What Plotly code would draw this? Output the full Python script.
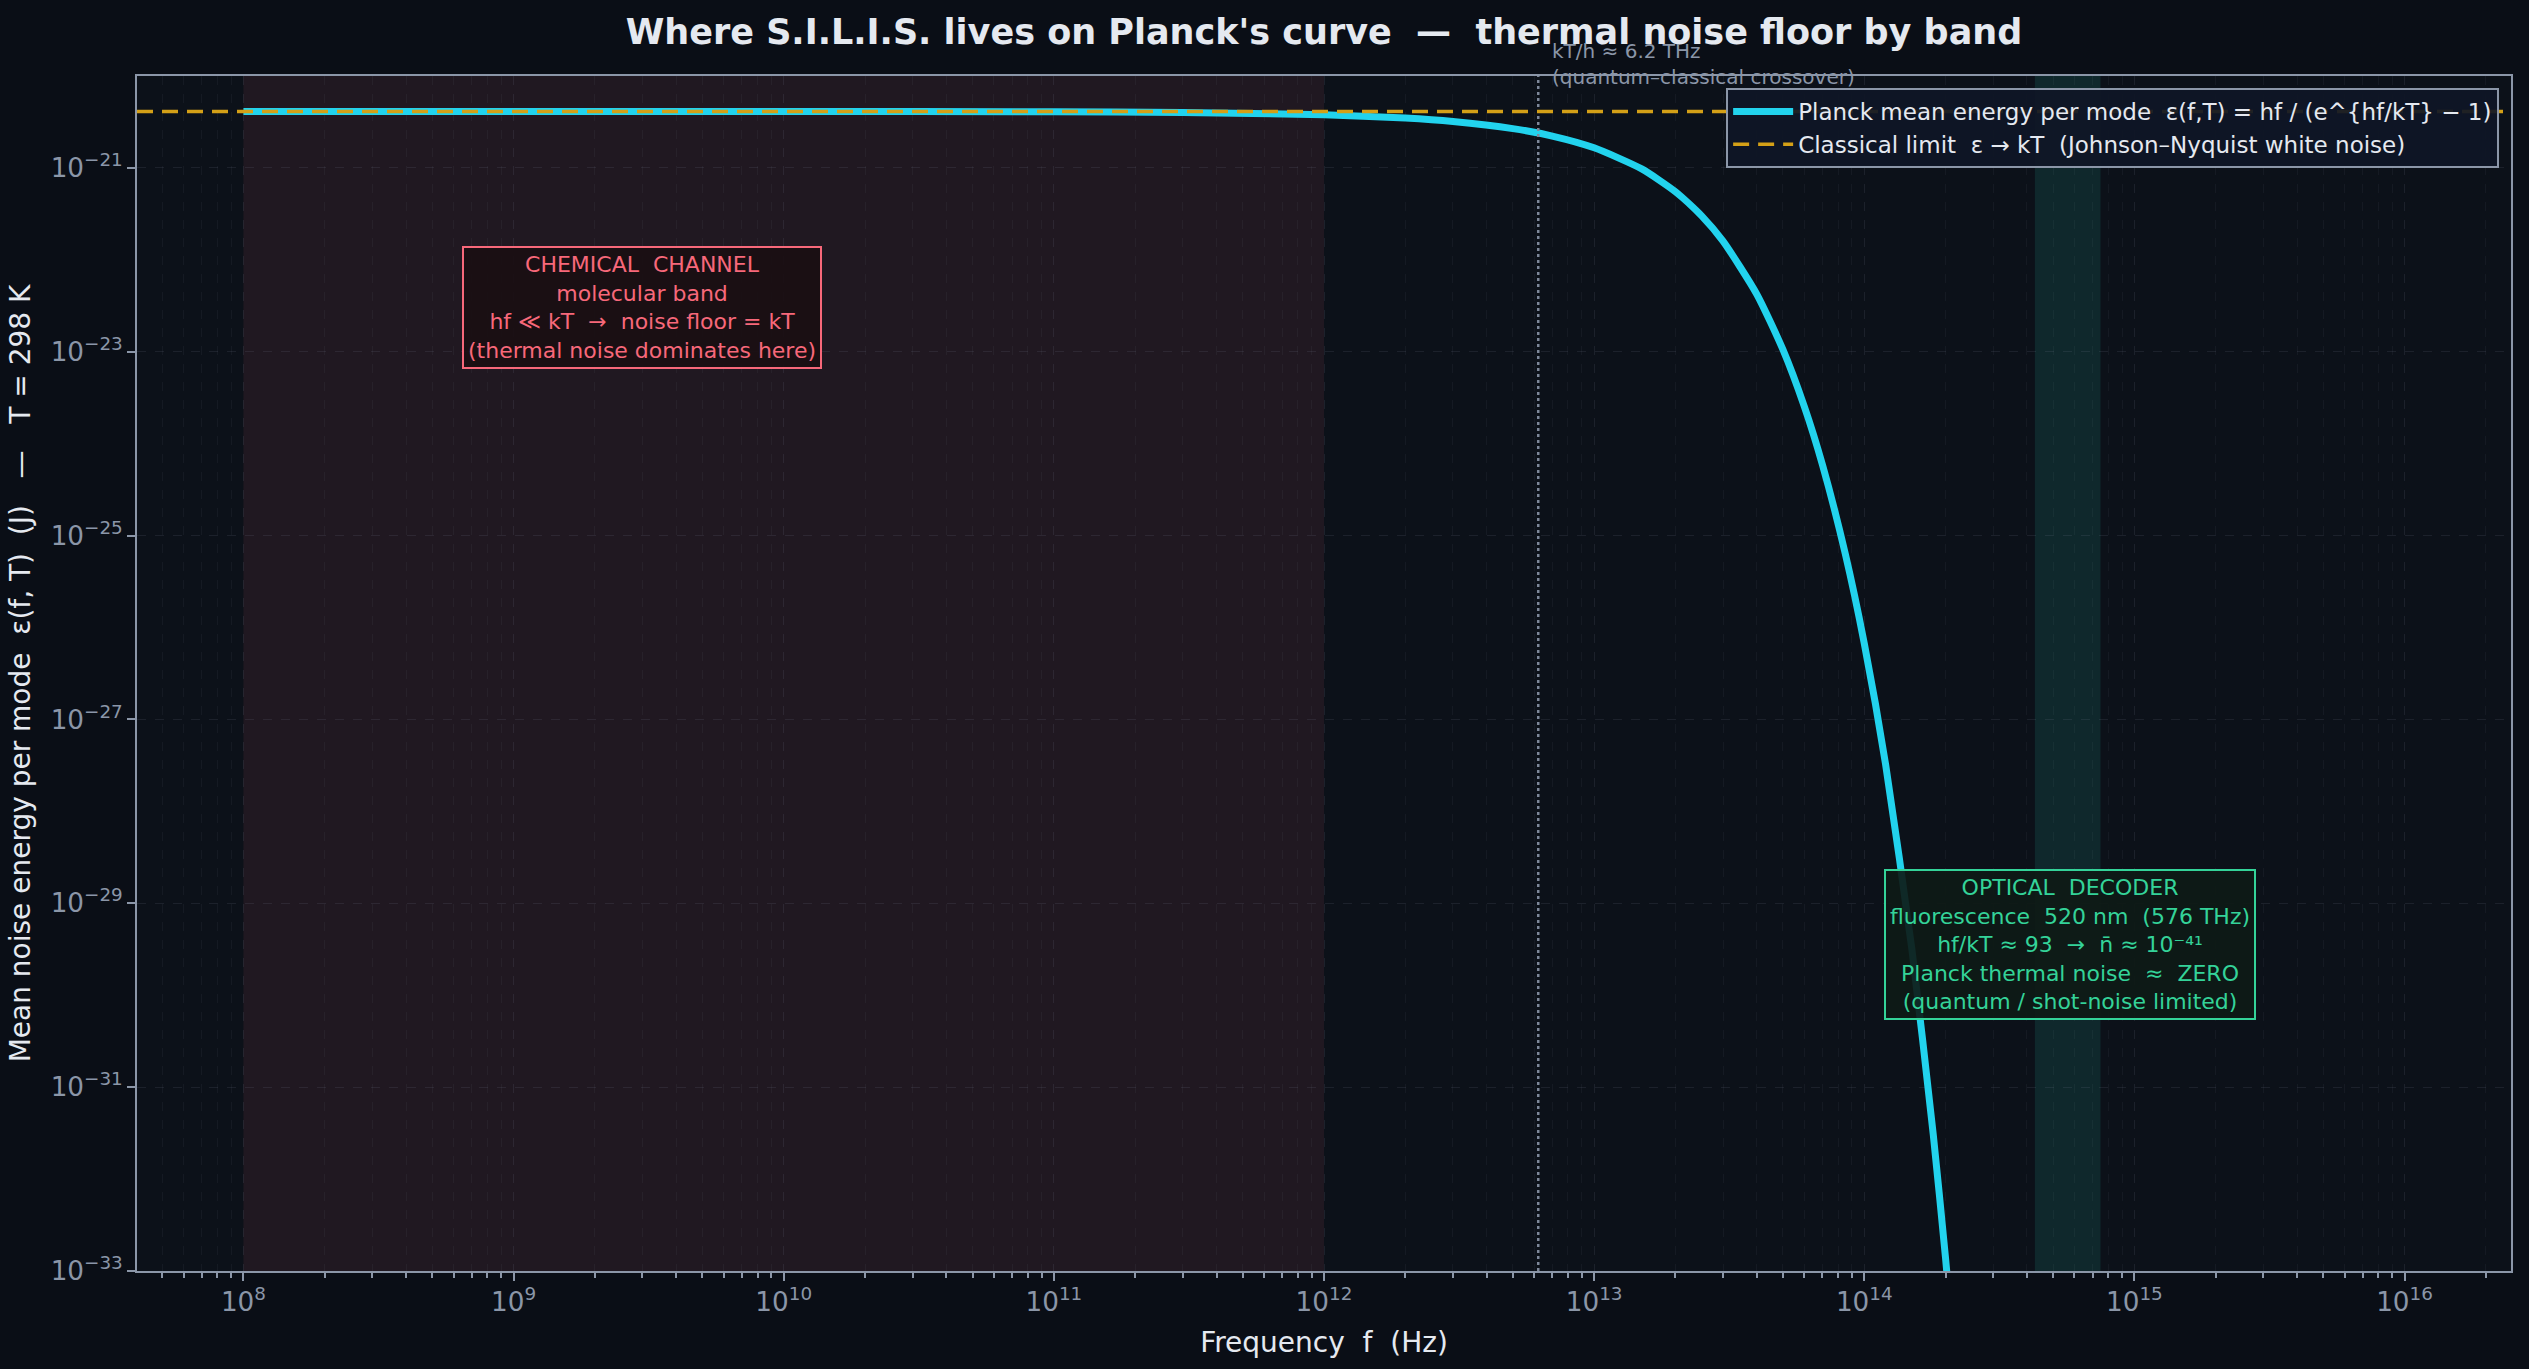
import numpy as np
import plotly.graph_objects as go

# Planck mean energy per mode at T = 298 K
freq_hz = [1e8, 1e9, 1e10, 1e11, 3e11, 1e12, 2e12, 3e12, 5e12, 7e12, 1e13,
           1.5e13, 2e13, 2.5e13, 3e13, 4e13, 5e13, 6e13, 7e13, 8.5e13, 1e14,
           1.2e14, 1.5e14, 1.8e14, 2e14, 2.2e14]
planck_energy = [4.114e-21, 4.114e-21, 4.111e-21, 4.081e-21, 4.016e-21, 3.79e-21,
                 3.487e-21, 3.20e-21, 2.678e-21, 2.222e-21, 1.654e-21, 9.75e-22,
                 5.51e-22, 3.01e-22, 1.598e-22, 4.23e-23, 1.054e-23, 2.53e-24,
                 5.90e-25, 6.38e-26, 6.71e-27, 3.21e-28, 3.19e-30, 3.06e-32,
                 1.36e-33, 5.98e-35]

kT = 4.114e-21            # classical limit (J)
crossover_hz = 6.21e12    # kT/h
chem_band = [1e8, 1e12]
optical_band = [4.28e14, 7.49e14]

BG = "#0a0e16"
PLOT_BG = "#0c1119"
GRID = "rgba(139,150,168,0.13)"
MINOR_GRID = "rgba(139,150,168,0.07)"
TICK = "#8b96a8"
TEXT = "#e5e9f0"
CYAN = "#22d3ee"
GOLD = "#d4a017"
RED = "#f7687a"
GREEN = "#34d399"
FONT = "DejaVu Sans"

fig = go.Figure()

fig.add_trace(go.Scatter(
    x=freq_hz, y=planck_energy, mode="lines",
    line=dict(color=CYAN, width=7, shape="spline", smoothing=0.6),
    name="Planck mean energy per mode  ε(f,T) = hf / (e^{hf/kT} − 1)",
))

# bands
fig.add_vrect(x0=chem_band[0], x1=chem_band[1], fillcolor="rgba(247,104,122,0.09)",
              line_width=0, layer="below")
fig.add_vrect(x0=optical_band[0], x1=optical_band[1], fillcolor="rgba(45,212,191,0.12)",
              line_width=0, layer="below")

# crossover line
fig.add_vline(x=crossover_hz, line=dict(color="#7d8799", width=2.5, dash="dot"))

# classical limit
fig.add_hline(y=kT, line=dict(color=GOLD, width=3.5, dash="16px,9px"),
              showlegend=True,
              name="Classical limit  ε → kT  (Johnson–Nyquist white noise)")

fig.add_annotation(
    x=np.log10(crossover_hz), y=1, xref="x", yref="paper",
    xanchor="left", yanchor="bottom", xshift=12, yshift=-15, align="left",
    text="kT/h ≈ 6.2 THz<br>(quantum–classical crossover)",
    showarrow=False, font=dict(family=FONT, size=20, color="#8b96a8"),
)

fig.add_annotation(
    x=np.log10(3e9), y=np.log10(3e-23), xref="x", yref="y",
    text="CHEMICAL  CHANNEL<br>molecular band<br>hf ≪ kT  →  noise floor = kT<br>(thermal noise dominates here)",
    showarrow=False, align="center",
    font=dict(family=FONT, size=22, color=RED),
    bgcolor="rgba(26,14,18,0.9)", bordercolor=RED, borderwidth=2, borderpad=4,
)

fig.add_annotation(
    x=np.log10(5.76e14), y=np.log10(3.6e-30), xref="x", yref="y",
    text="OPTICAL  DECODER<br>fluorescence  520 nm  (576 THz)<br>hf/kT ≈ 93  →  n̄ ≈ 10⁻⁴¹<br>Planck thermal noise  ≈  ZERO<br>(quantum / shot-noise limited)",
    showarrow=False, align="center",
    font=dict(family=FONT, size=22, color=GREEN),
    bgcolor="rgba(14,26,22,0.92)", bordercolor=GREEN, borderwidth=2, borderpad=4,
)

axis_common = dict(
    type="log", exponentformat="power", showline=True, linecolor=TICK, linewidth=2,
    mirror=True, ticks="outside", tickcolor=TICK, ticklen=8, tickwidth=1.5,
    tickfont=dict(family=FONT, size=21, color=TICK),
    showgrid=True, gridcolor=GRID, griddash="dash", gridwidth=1, zeroline=False,
)

fig.update_xaxes(
    **axis_common, range=[7.606, 16.394], dtick=1,
    minor=dict(ticks="outside", ticklen=5, tickcolor=TICK, showgrid=True,
               gridcolor=MINOR_GRID, griddash="dash"),
    title=dict(text="Frequency  f  (Hz)", font=dict(family=FONT, size=28, color=TEXT),
               standoff=16),
)
fig.update_yaxes(
    **axis_common, range=[-33, -20], tick0=-33, dtick=2,
    title=dict(text="Mean noise energy per mode  ε(f, T)  (J)   —   T = 298 K",
               font=dict(family=FONT, size=28, color=TEXT), standoff=12),
)

fig.update_layout(
    width=2529, height=1369,
    paper_bgcolor=BG, plot_bgcolor=PLOT_BG,
    margin=dict(l=137, r=18, t=76, b=98),
    title=dict(text="<b>Where S.I.L.I.S. lives on Planck's curve  —  thermal noise floor by band</b>",
               x=0.5, xref="paper", xanchor="center", y=0.977, yanchor="middle",
               yref="container", font=dict(family=FONT, size=35, color=TEXT)),
    legend=dict(x=0.995, y=0.99, xanchor="right", yanchor="top", itemwidth=60,
                bgcolor="rgba(15,22,38,0.92)", bordercolor=TICK, borderwidth=2,
                font=dict(family=FONT, size=23, color=TEXT)),
    showlegend=True,
)

fig.write_html("out.html", config={"displayModeBar": False},
               post_script="document.body.style.margin='0';document.body.style.background='#0a0e16';")
